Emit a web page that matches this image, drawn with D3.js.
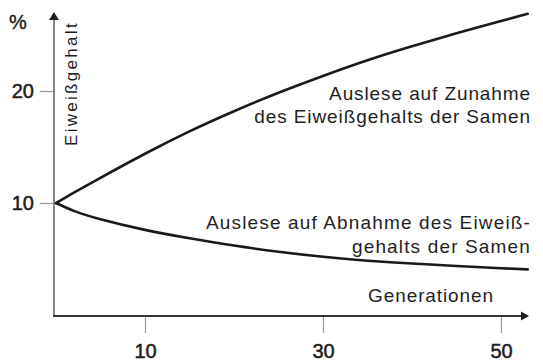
<!DOCTYPE html>
<html>
<head>
<meta charset="utf-8">
<script src="https://cdn.jsdelivr.net/npm/d3@7"></script>
<style>
  html, body { margin: 0; padding: 0; background: #fff; }
  svg { display: block; }
  text { font-family: "Liberation Sans", Arial, Helvetica, sans-serif; fill: #1e1e1e; }
</style>
</head>
<body>
<svg id="chart" width="543" height="362"></svg>
<script>
// Generationen and protein content (%) under selection in two directions
const generations = [0, 2, 5, 10, 15, 20, 25, 30, 35, 40, 45, 50, 53];
const increaseSeries = [10, 10.92, 12.25, 14.4, 16.4, 18.2, 19.85, 21.35, 22.75, 24.0, 25.15, 26.25, 26.9];
const decreaseSeries = [10, 9.3, 8.55, 7.6, 6.85, 6.2, 5.65, 5.2, 4.85, 4.6, 4.38, 4.18, 4.07];
const xTicks = [10, 30, 50];
const yTicks = [10, 20];
const labels = {
  unit: "%",
  yTitle: "Eiweißgehalt",
  xTitle: "Generationen",
  increase: ["Auslese auf Zunahme", "des Eiweißgehalts der Samen"],
  decrease: ["Auslese auf Abnahme des Eiweiß-", "gehalts der Samen"]
};

const svg = d3.select("#chart");
const axisX = 54, axisY = 316;

const x = d3.scaleLinear().domain([0, 53]).range([56, 527.7]);
const y = d3.scaleLinear().domain([0, 27.2]).range([315, 10.4]);

// Y axis ticks and labels
const gy = svg.append("g")
  .attr("transform", `translate(${axisX},0)`)
  .call(d3.axisLeft(y).tickValues(yTicks).tickSize(14).tickPadding(6).tickFormat(d3.format("d")));
gy.select(".domain").remove();
gy.selectAll(".tick line").attr("stroke", "#9a9a9a").attr("stroke-width", 1.2);
gy.selectAll(".tick text")
  .style("font-family", "'Liberation Sans', Arial, sans-serif")
  .style("font-size", "20px").attr("fill", "#1e1e1e")
  .attr("stroke", "#1e1e1e").attr("stroke-width", 0.5);

// X axis ticks and labels
const gx = svg.append("g")
  .attr("transform", `translate(0,${axisY})`)
  .call(d3.axisBottom(x).tickValues(xTicks).tickSize(17).tickPadding(11).tickFormat(d3.format("d")));
gx.select(".domain").remove();
gx.selectAll(".tick line").attr("stroke", "#9a9a9a").attr("stroke-width", 1.2);
gx.selectAll(".tick text")
  .style("font-family", "'Liberation Sans', Arial, sans-serif")
  .style("font-size", "20px").attr("fill", "#1e1e1e")
  .attr("stroke", "#1e1e1e").attr("stroke-width", 0.5);

// Axis lines with arrowheads
const yTop = 12, xEnd = 529;
svg.append("line")
  .attr("x1", axisX).attr("y1", axisY).attr("x2", axisX).attr("y2", yTop + 6)
  .attr("stroke", "#7a7a7a").attr("stroke-width", 1.8);
svg.append("path")
  .attr("d", `M${axisX},${yTop} L${axisX - 5},${yTop + 8} L${axisX + 5},${yTop + 8} Z`)
  .attr("fill", "#1e1e1e");
svg.append("line")
  .attr("x1", axisX - 1).attr("y1", axisY).attr("x2", xEnd - 6).attr("y2", axisY)
  .attr("stroke", "#333").attr("stroke-width", 2);
svg.append("path")
  .attr("d", `M${xEnd},${axisY} L${xEnd - 8},${axisY - 4.5} L${xEnd - 8},${axisY + 4.5} Z`)
  .attr("fill", "#1e1e1e");

// Curves
const line = d3.line()
  .x((d, i) => x(generations[i]))
  .y(d => y(d))
  .curve(d3.curveNatural);

[increaseSeries, decreaseSeries].forEach(series => {
  svg.append("path")
    .attr("d", line(series))
    .attr("fill", "none")
    .attr("stroke", "#1a1a1a")
    .attr("stroke-width", 2.6)
    .attr("stroke-linejoin", "round")
    .attr("stroke-linecap", "round");
});

// Unit and axis titles
svg.append("text").attr("x", 9).attr("y", 29)
  .style("font-size", "20px")
  .attr("stroke", "#1e1e1e").attr("stroke-width", 0.4)
  .text(labels.unit);

svg.append("text")
  .attr("transform", "translate(77,146) rotate(-90)")
  .style("font-size", "17px").style("letter-spacing", "2.3px")
  .text(labels.yTitle);

svg.append("text").attr("x", 494).attr("y", 302).attr("text-anchor", "end")
  .style("font-size", "19px").style("letter-spacing", "0.9px")
  .text(labels.xTitle);

// Curve annotations
function annotate(lines, baseline, step, spacing) {
  lines.forEach((t, i) => {
    svg.append("text")
      .attr("x", 531).attr("y", baseline + i * step)
      .attr("text-anchor", "end")
      .style("font-size", "19px").style("letter-spacing", spacing + "px")
      .text(t);
  });
}
annotate(labels.increase, 100, 23, 0.9);
annotate(labels.decrease, 229, 24, 1.15);
</script>
</body>
</html>
